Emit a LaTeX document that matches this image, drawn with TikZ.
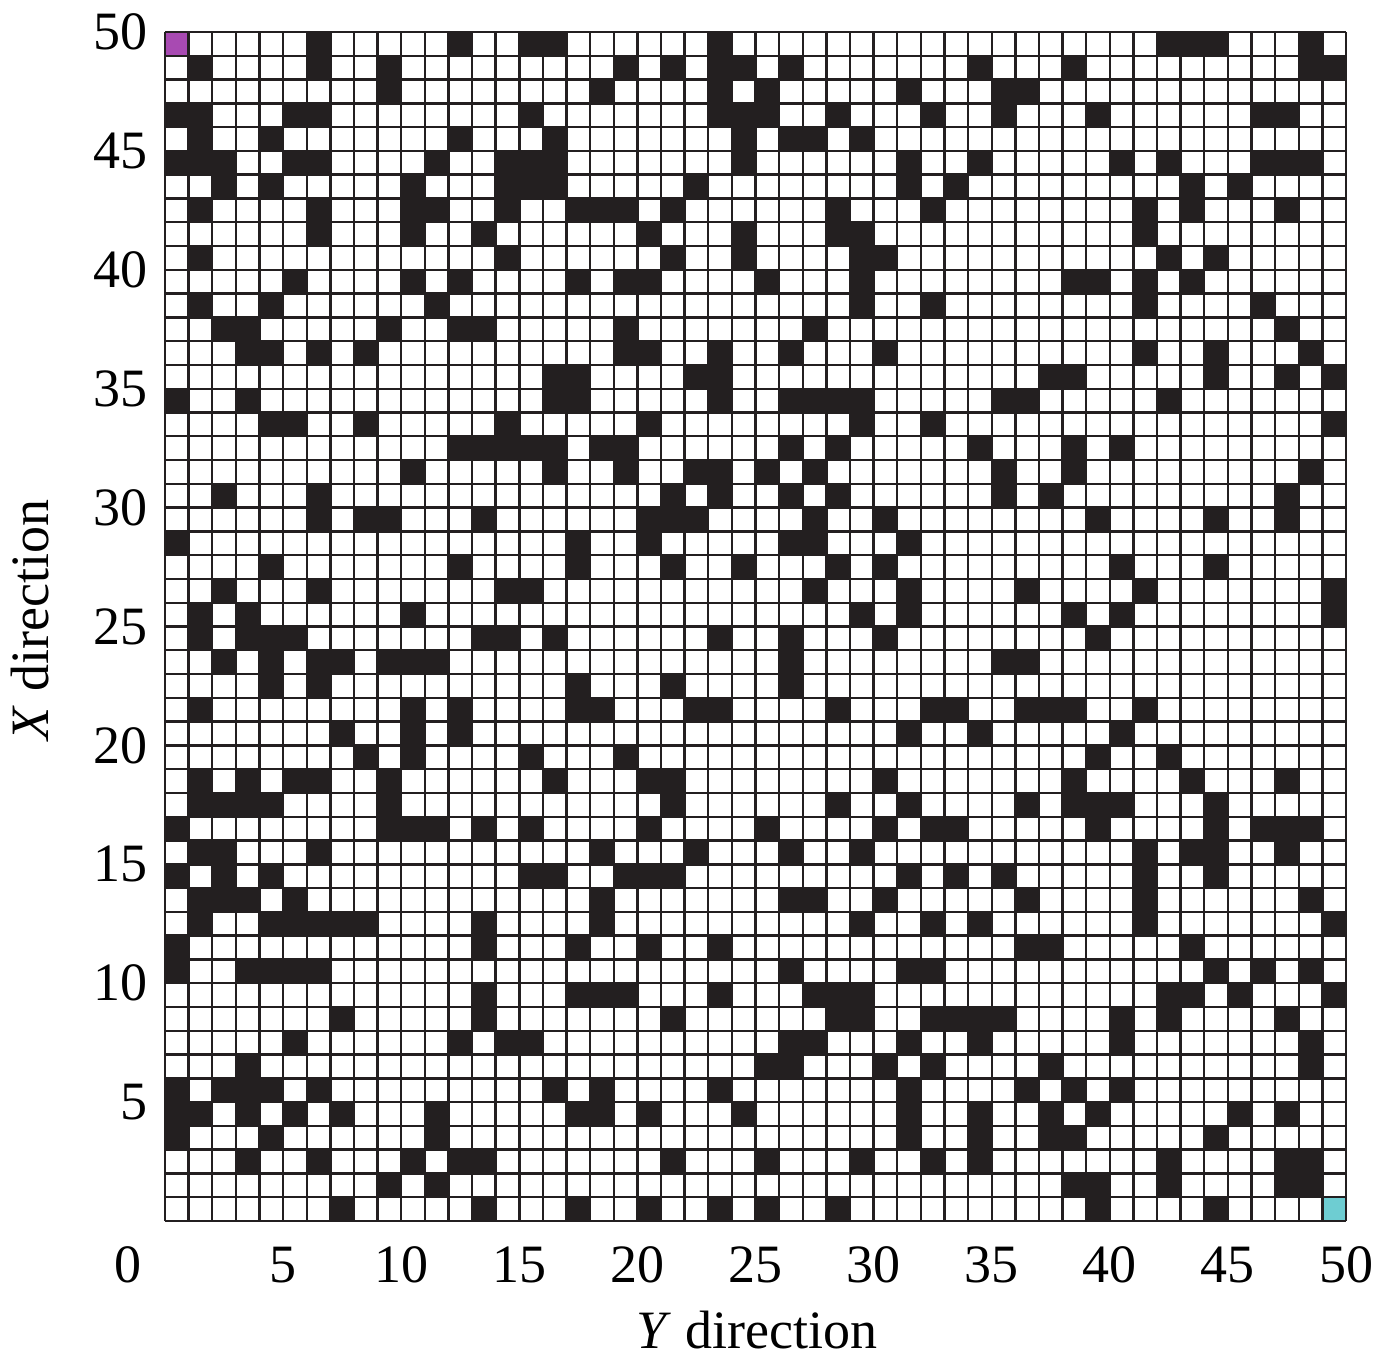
\documentclass[tikz,border=0pt]{standalone}
\usepackage{fontspec}
\setmainfont{Liberation Serif}
\definecolor{ink}{HTML}{231F20}
\definecolor{startc}{HTML}{A84AB2}
\definecolor{goalc}{HTML}{6ECDD2}
\tikzset{
  cellfill/.style={fill=ink},
  gridline/.style={draw=ink,line width=1.2pt},
  ticklab/.style={font=\fontsize{27}{32}\selectfont,inner sep=0pt},
  axlab/.style={font=\fontsize{27}{32}\selectfont,inner sep=0pt}
}
\newcommand\blackrow[2]{\foreach \c in {#2} {\fill[cellfill] ({\c},{49-#1}) rectangle ++(1,1);}}
\begin{document}
\begin{tikzpicture}[x=11.81pt,y=11.89pt]
\useasboundingbox (-6.986,-6.098) rectangle (51.355,51.346);
\fill[white] (-6.986,-6.098) rectangle (51.355,51.346);
\fill[startc] (0,49) rectangle (1,50);
\fill[goalc] (49,0) rectangle (50,1);
\blackrow{0}{6,12,15,16,23,42,43,44,48}
\blackrow{1}{1,6,9,19,21,23,24,26,34,38,48,49}
\blackrow{2}{9,18,23,25,31,35,36}
\blackrow{3}{0,1,5,6,15,23,24,25,28,32,35,39,46,47}
\blackrow{4}{1,4,12,16,24,26,27,29}
\blackrow{5}{0,1,2,5,6,11,14,15,16,24,31,34,40,42,46,47,48}
\blackrow{6}{2,4,10,14,15,16,22,31,33,43,45}
\blackrow{7}{1,6,10,11,14,17,18,19,21,28,32,41,43,47}
\blackrow{8}{6,10,13,20,24,28,29,41}
\blackrow{9}{1,14,21,24,29,30,42,44}
\blackrow{10}{5,10,12,17,19,20,25,29,38,39,41,43}
\blackrow{11}{1,4,11,29,32,41,46}
\blackrow{12}{2,3,9,12,13,19,27,47}
\blackrow{13}{3,4,6,8,19,20,23,26,30,41,44,48}
\blackrow{14}{16,17,22,23,37,38,44,47,49}
\blackrow{15}{0,3,16,17,23,26,27,28,29,35,36,42}
\blackrow{16}{4,5,8,14,20,29,32,49}
\blackrow{17}{12,13,14,15,16,18,19,26,28,34,38,40}
\blackrow{18}{10,16,19,22,23,25,27,35,38,48}
\blackrow{19}{2,6,21,23,26,28,35,37,47}
\blackrow{20}{6,8,9,13,20,21,22,27,30,39,44,47}
\blackrow{21}{0,17,20,26,27,31}
\blackrow{22}{4,12,17,21,24,28,30,40,44}
\blackrow{23}{2,6,14,15,27,31,36,41,49}
\blackrow{24}{1,3,10,29,31,38,40,49}
\blackrow{25}{1,3,4,5,13,14,16,23,26,30,39}
\blackrow{26}{2,4,6,7,9,10,11,26,35,36}
\blackrow{27}{4,6,17,21,26}
\blackrow{28}{1,10,12,17,18,22,23,28,32,33,36,37,38,41}
\blackrow{29}{7,10,12,31,34,40}
\blackrow{30}{8,10,15,19,39,42}
\blackrow{31}{1,3,5,6,9,16,20,21,30,38,43,47}
\blackrow{32}{1,2,3,4,9,21,28,31,36,38,39,40,44}
\blackrow{33}{0,9,10,11,13,15,20,25,30,32,33,39,44,46,47,48}
\blackrow{34}{1,2,6,18,22,26,29,41,43,44,47}
\blackrow{35}{0,2,4,15,16,19,20,21,31,33,35,41,44}
\blackrow{36}{1,2,3,5,18,26,27,30,36,41,48}
\blackrow{37}{1,4,5,6,7,8,13,18,29,32,34,41,49}
\blackrow{38}{0,13,17,20,23,36,37,43}
\blackrow{39}{0,3,4,5,6,26,31,32,44,46,48}
\blackrow{40}{13,17,18,19,23,27,28,29,42,43,45,49}
\blackrow{41}{7,13,21,28,29,32,33,34,35,40,42,47}
\blackrow{42}{5,12,14,15,26,27,31,34,40,48}
\blackrow{43}{3,25,26,30,32,37,48}
\blackrow{44}{0,2,3,4,6,16,18,23,31,36,38,40}
\blackrow{45}{0,1,3,5,7,11,17,18,20,24,31,34,37,39,45,47}
\blackrow{46}{0,4,11,31,34,37,38,44}
\blackrow{47}{3,6,10,12,13,21,25,29,32,34,42,47,48}
\blackrow{48}{9,11,38,39,42,47,48}
\blackrow{49}{7,13,17,20,23,25,28,39,44}
\foreach \k in {0,...,50} {
  \draw[gridline] (\k,0) -- (\k,50);
  \draw[gridline] (0,\k) -- (50,\k);
}
% tick labels
\node[ticklab] (y0) at (-1.57,-1.85) {0};
\foreach \v in {5,10,...,50} {
  \node[ticklab] (yt\v) at (\v,-1.85) {\v};
}
\foreach \v in {5,10,...,50} {
  \node[ticklab,anchor=east] (xt\v) at (-0.72,\v) {\v};
}
\node[axlab] (ylab) at (25.06,-4.58) {\textit{Y} direction};
\node[axlab,rotate=90] (xlab) at (-5.72,25.27) {\textit{X} direction};
\end{tikzpicture}
\end{document}
